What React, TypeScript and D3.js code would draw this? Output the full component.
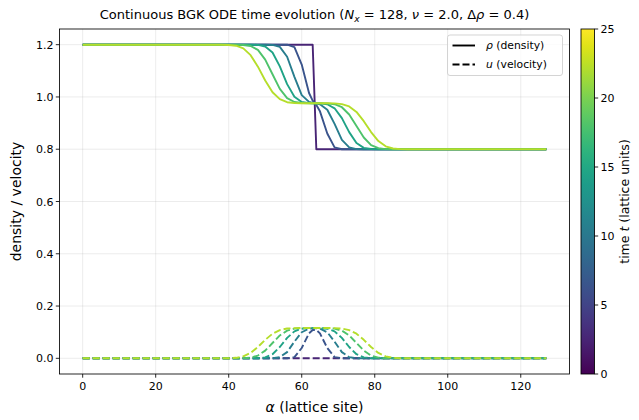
import React from "react";
import * as d3 from "d3";

// lattice sites where values were read
const sites = [0, 36, 38, 40, 42, 44, 46, 48, 50, 52, 54, 56, 58, 60, 62, 63, 64, 65, 67, 69, 71, 73, 75, 77, 79, 81, 83, 85, 87, 89, 91, 127];

const times = [0, 5, 10, 15, 20, 25];
const colorFrac = [0.1, 0.26, 0.42, 0.58, 0.72, 0.89];

const rho0 = [1.2, 1.2, 1.2, 1.2, 1.2, 1.2, 1.2, 1.2, 1.2, 1.2, 1.2, 1.2, 1.2, 1.2, 1.2, 1.2, 0.8, 0.8, 0.8, 0.8, 0.8, 0.8, 0.8, 0.8, 0.8, 0.8, 0.8, 0.8, 0.8, 0.8, 0.8, 0.8];
const rho5 = [1.2, 1.2, 1.2, 1.2, 1.2, 1.2, 1.2, 1.2, 1.2, 1.2, 1.2, 1.2, 1.191, 1.124, 1.015, 0.986, 0.969, 0.945, 0.86, 0.807, 0.8, 0.8, 0.8, 0.8, 0.8, 0.8, 0.8, 0.8, 0.8, 0.8, 0.8, 0.8];
const rho10 = [1.2, 1.2, 1.2, 1.2, 1.2, 1.2, 1.2, 1.2, 1.2, 1.199, 1.1915, 1.154, 1.077, 1.007, 0.981, 0.977, 0.975, 0.972, 0.951, 0.897, 0.836, 0.807, 0.8005, 0.8, 0.8, 0.8, 0.8, 0.8, 0.8, 0.8, 0.8, 0.8];
const rho15 = [1.2, 1.2, 1.2, 1.2, 1.2, 1.2, 1.2, 1.199, 1.193, 1.17, 1.117, 1.049, 1.0006, 0.981, 0.9766, 0.976, 0.9759, 0.9755, 0.972, 0.9566, 0.919, 0.8655, 0.824, 0.8053, 0.8007, 0.8, 0.8, 0.8, 0.8, 0.8, 0.8, 0.8];
const rho20 = [1.2, 1.2, 1.2, 1.2, 1.2, 1.199, 1.195, 1.18, 1.143, 1.087, 1.031, 0.9955, 0.9807, 0.9767, 0.976, 0.976, 0.976, 0.9759, 0.9754, 0.9723, 0.9607, 0.9327, 0.889, 0.8448, 0.816, 0.804, 0.8006, 0.8, 0.8, 0.8, 0.8, 0.8];
const rho25 = [1.2, 1.2, 1.2, 1.199, 1.196, 1.186, 1.16, 1.116, 1.063, 1.018, 0.9915, 0.98, 0.9768, 0.976, 0.976, 0.976, 0.976, 0.976, 0.9759, 0.9754, 0.9727, 0.9639, 0.9427, 0.9074, 0.8657, 0.8313, 0.811, 0.8029, 0.8005, 0.8001, 0.8, 0.8];

const u0 = [0, 0, 0, 0, 0, 0, 0, 0, 0, 0, 0, 0, 0, 0, 0, 0, 0, 0, 0, 0, 0, 0, 0, 0, 0, 0, 0, 0, 0, 0, 0, 0];
const u5 = [0, 0, 0, 0, 0, 0, 0, 0, 0, 0, 0, 0.0001, 0.0046, 0.0394, 0.0955, 0.1083, 0.1083, 0.0955, 0.0394, 0.0046, 0.0001, 0, 0, 0, 0, 0, 0, 0, 0, 0, 0, 0];
const u10 = [0, 0, 0, 0, 0, 0, 0, 0, 0, 0.0003, 0.0044, 0.0238, 0.0639, 0.0998, 0.1135, 0.1151, 0.1151, 0.1135, 0.0998, 0.0639, 0.0238, 0.0044, 0.0003, 0, 0, 0, 0, 0, 0, 0, 0, 0];
const u15 = [0, 0, 0, 0, 0, 0, 0, 0.0005, 0.0035, 0.0157, 0.0432, 0.0782, 0.1032, 0.1134, 0.1157, 0.1159, 0.1159, 0.1157, 0.1134, 0.1032, 0.0782, 0.0432, 0.0157, 0.0035, 0.0005, 0, 0, 0, 0, 0, 0, 0];
const u20 = [0, 0, 0, 0, 0, 0.0004, 0.0026, 0.0106, 0.0295, 0.0586, 0.0875, 0.1059, 0.1136, 0.1156, 0.116, 0.116, 0.116, 0.116, 0.1156, 0.1136, 0.1059, 0.0875, 0.0586, 0.0295, 0.0106, 0.0026, 0.0004, 0, 0, 0, 0, 0];
const u25 = [0, 0, 0, 0.0003, 0.0019, 0.0074, 0.0206, 0.0433, 0.0708, 0.0941, 0.108, 0.1139, 0.1156, 0.1159, 0.116, 0.116, 0.116, 0.116, 0.1159, 0.1156, 0.1139, 0.108, 0.0941, 0.0708, 0.0433, 0.0206, 0.0074, 0.0019, 0.0003, 0, 0, 0];

const rhoSeries = [rho0, rho5, rho10, rho15, rho20, rho25];
const uSeries = [u0, u5, u10, u15, u20, u25];

const xTicks = [0, 20, 40, 60, 80, 100, 120];
const yTicks = [0.0, 0.2, 0.4, 0.6, 0.8, 1.0, 1.2];
const cbTicks = [0, 5, 10, 15, 20, 25];

const FONT = "'DejaVu Sans', sans-serif";

export default function App() {
  const W = 639, H = 420;
  const L = 59.5, R = 569.5, T = 29, B = 374;
  const x = d3.scaleLinear().domain([-6.35, 133.35]).range([L, R]);
  const y = d3.scaleLinear().domain([-0.06, 1.26]).range([B, T]);
  const cbL = 581, cbR = 594.5;
  const cy = d3.scaleLinear().domain([0, 25]).range([B, T]);
  const line = d3.line<number>().x((_, i) => x(sites[i])).y((v) => y(v));
  const colors = colorFrac.map((f) => d3.interpolateViridis(f));
  const stops = d3.range(0, 1.0001, 0.05);
  const DASH = "7,3";
  const LW = 1.9;

  return (
    <svg width={W} height={H} style={{ position: "absolute", left: 0, top: 0, fontFamily: FONT }}>
      <defs>
        <linearGradient id="vir" x1="0" y1="1" x2="0" y2="0">
          {stops.map((s, i) => (
            <stop key={i} offset={s} stopColor={d3.interpolateViridis(s)} />
          ))}
        </linearGradient>
        <clipPath id="plot">
          <rect x={L} y={T} width={R - L} height={B - T} />
        </clipPath>
      </defs>
      <rect width={W} height={H} fill="white" />
      {/* grid */}
      {xTicks.map((t) => (
        <line key={"gx" + t} x1={x(t)} x2={x(t)} y1={T} y2={B} stroke="#b0b0b0" strokeOpacity={0.3} strokeWidth={0.8} />
      ))}
      {yTicks.map((t) => (
        <line key={"gy" + t} x1={L} x2={R} y1={y(t)} y2={y(t)} stroke="#b0b0b0" strokeOpacity={0.3} strokeWidth={0.8} />
      ))}
      {/* curves */}
      <g clipPath="url(#plot)" fill="none" strokeWidth={LW} strokeLinejoin="round">
        {times.map((t, i) => (
          <g key={"c" + t}>
            <path d={line(rhoSeries[i]) || ""} stroke={colors[i]} />
            <path d={line(uSeries[i]) || ""} stroke={colors[i]} strokeDasharray={DASH} />
          </g>
        ))}
      </g>
      {/* spines */}
      <rect x={L} y={T} width={R - L} height={B - T} fill="none" stroke="black" strokeWidth={0.85} />
      {/* x ticks */}
      {xTicks.map((t) => (
        <g key={"xt" + t}>
          <line x1={x(t)} x2={x(t)} y1={B} y2={B + 3.7} stroke="black" strokeWidth={0.85} />
          <text x={x(t)} y={B + 15.5} textAnchor="middle" fontSize={11} fill="black">{t}</text>
        </g>
      ))}
      {yTicks.map((t) => (
        <g key={"yt" + t}>
          <line x1={L - 3.7} x2={L} y1={y(t)} y2={y(t)} stroke="black" strokeWidth={0.85} />
          <text x={L - 6} y={y(t) + 4} textAnchor="end" fontSize={11} fill="black">{t.toFixed(1)}</text>
        </g>
      ))}
      {/* axis labels */}
      <text x={(L + R) / 2} y={412} textAnchor="middle" fontSize={14} fill="black">
        <tspan fontStyle="italic">α</tspan> (lattice site)
      </text>
      <text transform={`translate(${21},${(T + B) / 2}) rotate(-90)`} textAnchor="middle" fontSize={14} fill="black">
        density / velocity
      </text>
      {/* title */}
      <text x={(L + R) / 2} y={19} textAnchor="middle" fontSize={13} fill="black">
        Continuous BGK ODE time evolution (<tspan fontStyle="italic">N</tspan>
        <tspan fontStyle="italic" fontSize={9.2} dy={2.6}>x</tspan>
        <tspan dy={-2.6}> = 128, </tspan>
        <tspan fontStyle="italic">ν</tspan> = 2.0, Δ<tspan fontStyle="italic">ρ</tspan> = 0.4)
      </text>
      {/* legend */}
      <g>
        <rect x={447.5} y={35} width={115} height={40.5} rx={2.5} fill="white" fillOpacity={0.8} stroke="#cccccc" strokeWidth={0.85} />
        <line x1={452.5} x2={475} y1={45.5} y2={45.5} stroke="black" strokeWidth={LW} />
        <line x1={452.5} x2={475} y1={64.5} y2={64.5} stroke="black" strokeWidth={LW} strokeDasharray={DASH} />
        <text x={486} y={49.3} fontSize={10.8} fill="black">
          <tspan fontStyle="italic">ρ</tspan> (density)
        </text>
        <text x={486} y={68.3} fontSize={10.8} fill="black">
          <tspan fontStyle="italic">u</tspan> (velocity)
        </text>
      </g>
      {/* colorbar */}
      <rect x={cbL} y={T} width={cbR - cbL} height={B - T} fill="url(#vir)" />
      <rect x={cbL} y={T} width={cbR - cbL} height={B - T} fill="none" stroke="black" strokeWidth={0.85} />
      {cbTicks.map((t) => (
        <g key={"cb" + t}>
          <line x1={cbR} x2={cbR + 3.7} y1={cy(t)} y2={cy(t)} stroke="black" strokeWidth={0.85} />
          <text x={cbR + 6} y={cy(t) + 4} fontSize={11} fill="black">{t}</text>
        </g>
      ))}
      <text transform={`translate(${629},${(T + B) / 2}) rotate(-90)`} textAnchor="middle" fontSize={12.5} fill="black">
        time <tspan fontStyle="italic">t</tspan> (lattice units)
      </text>
    </svg>
  );
}
